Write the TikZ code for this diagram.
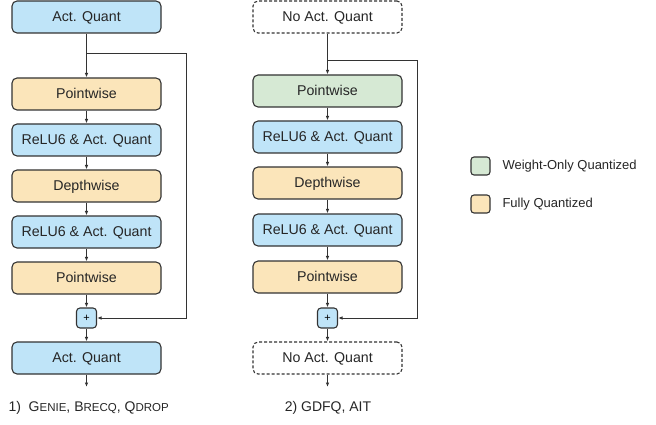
\documentclass[tikz,border=0pt]{standalone}
\usepackage{fontspec}
\setmainfont{Liberation Sans}
\usetikzlibrary{arrows.meta}
\definecolor{qblue}{HTML}{BFE4F8}
\definecolor{qyellow}{HTML}{FBE5BA}
\definecolor{qgreen}{HTML}{D6E9D4}
\definecolor{qline}{HTML}{333333}
\newcommand{\smc}[1]{{\fontsize{11.5}{12}\selectfont #1}}
\begin{document}
\begin{tikzpicture}[x=1pt,y=-1pt,
  box/.style={draw=qline, line width=1.1pt, rounded corners=5pt, minimum width=149pt, minimum height=32pt, inner sep=0pt, font=\fontsize{14.2}{16}\selectfont, text=black!85, text height=10.5pt, text depth=1pt},
  bluebox/.style={box, fill=qblue},
  yellowbox/.style={box, fill=qyellow},
  greenbox/.style={box, fill=qgreen},
  dashbox/.style={box, fill=white, dash pattern=on 3pt off 2pt},
  plusbox/.style={draw=qline, line width=1.1pt, rounded corners=3.5pt, fill=qblue, minimum width=20pt, minimum height=20pt, inner sep=0pt, font=\fontsize{11}{12}\selectfont},
  legbox/.style={draw=qline, line width=1.1pt, rounded corners=3pt, minimum width=19pt, minimum height=18pt, inner sep=0pt},
  arr/.style={draw=qline, line width=0.9pt, -{Latex[length=4.5pt,width=3.5pt]}},
  lbl/.style={font=\fontsize{14}{16}\selectfont, text=black!85}
]
\useasboundingbox (0,0) rectangle (656,425);
% left column
\node[bluebox]   (la) at (86.5,17)  {Act. Quant};
\node[yellowbox] (lp1) at (86.5,94) {Pointwise};
\node[bluebox]   (lr1) at (86.5,140) {ReLU6 \& Act. Quant};
\node[yellowbox] (ld) at (86.5,186) {Depthwise};
\node[bluebox]   (lr2) at (86.5,232) {ReLU6 \& Act. Quant};
\node[yellowbox] (lp2) at (86.5,278) {Pointwise};
\node[plusbox]   (lplus) at (86.5,318) {+};
\node[bluebox]   (lb) at (86.5,358) {Act. Quant};
\coordinate (lend) at (86.5,387);
\coordinate (lbr) at (86.5,53);
\coordinate (lc1) at (186,53);
\coordinate (lc2) at (186,318);
\draw[arr] (la) -- (lp1);
\draw[arr] (lp1) -- (lr1);
\draw[arr] (lr1) -- (ld);
\draw[arr] (ld) -- (lr2);
\draw[arr] (lr2) -- (lp2);
\draw[arr] (lp2) -- (lplus);
\draw[arr] (lplus) -- (lb);
\draw[arr] (lb) -- (lend);
\draw[arr] (lbr) -- (lc1) -- (lc2) -- (lplus.east);
% right column
\node[dashbox]   (ra) at (327.5,17) {No Act. Quant};
\node[greenbox]  (rp1) at (327.5,91) {Pointwise};
\node[bluebox]   (rr1) at (327.5,137) {ReLU6 \& Act. Quant};
\node[yellowbox] (rd) at (327.5,183) {Depthwise};
\node[bluebox]   (rr2) at (327.5,230) {ReLU6 \& Act. Quant};
\node[yellowbox] (rp2) at (327.5,277) {Pointwise};
\node[plusbox]   (rplus) at (327.5,318) {+};
\node[dashbox]   (rb) at (327.5,358) {No Act. Quant};
\coordinate (rend) at (327.5,387);
\coordinate (rbr) at (327.5,60);
\coordinate (rc1) at (417,60);
\coordinate (rc2) at (417,318);
\draw[arr] (ra) -- (rp1);
\draw[arr] (rp1) -- (rr1);
\draw[arr] (rr1) -- (rd);
\draw[arr] (rd) -- (rr2);
\draw[arr] (rr2) -- (rp2);
\draw[arr] (rp2) -- (rplus);
\draw[arr] (rplus) -- (rb);
\draw[arr] (rb) -- (rend);
\draw[arr] (rbr) -- (rc1) -- (rc2) -- (rplus.east);
% legend
\node[legbox, fill=qgreen]  (lg1) at (480.5,166) {};
\node[legbox, fill=qyellow] (lg2) at (480.5,204) {};
\node[lbl, anchor=west, font=\fontsize{13}{15}\selectfont] (lt1) at (499,166) {Weight-Only Quantized};
\node[lbl, anchor=west, font=\fontsize{13}{15}\selectfont] (lt2) at (499,204) {Fully Quantized};
% captions
\node[lbl, anchor=west] (cap1) at (5,408) {1)\ \ G\smc{ENIE}, B\smc{RECQ}, Q\smc{DROP}};
\node[lbl] (cap2) at (328,408) {2) GDFQ, AIT};
\end{tikzpicture}
\end{document}
